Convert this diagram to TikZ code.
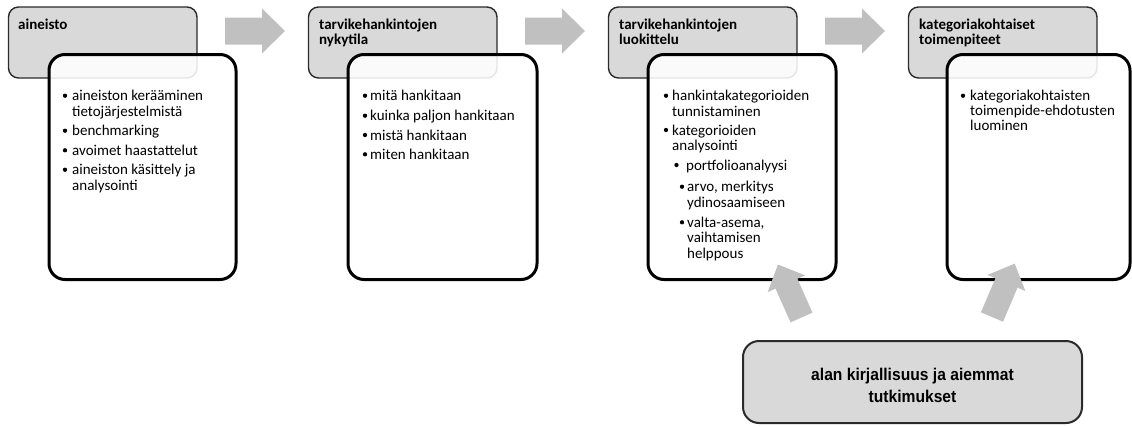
\documentclass[tikz,border=0pt]{standalone}
\usepackage{fontspec}
\setmainfont{Carlito}
\newfontfamily\litfont{Liberation Sans}[FakeStretch=0.92]
\definecolor{titlegray}{HTML}{D9D9D9}
\definecolor{arrowgray}{HTML}{C0C0C0}
\definecolor{edgegray}{HTML}{2A2A2A}
% lines of a text block, aligned on the baseline of the first line
\newcommand\linesL[1]{\begin{tabular}[t]{@{}l@{}}#1\end{tabular}}
\newcommand\linesC[1]{\begin{tabular}[t]{@{}c@{}}#1\end{tabular}}
\begin{document}
\begin{tikzpicture}[x=1pt,y=-1pt,
  titlebox/.style={draw=edgegray, line width=1.4pt, fill=titlegray, rounded corners=10pt,
    anchor=north west, outer sep=0pt, inner sep=0pt},
  listbox/.style={draw=black, line width=3pt, fill=white, fill opacity=0.88, rounded corners=16pt,
    anchor=north west, outer sep=0pt, inner sep=0pt},
  sourcebox/.style={draw=edgegray, line width=2pt, fill=titlegray, rounded corners=16pt,
    anchor=north west, outer sep=0pt, inner sep=0pt},
  titletext/.style={anchor=base west, inner sep=0pt,
    font=\fontsize{15}{15}\selectfont\bfseries},
  itemtext/.style={anchor=base west, inner sep=0pt,
    font=\fontsize{15}{15.5}\selectfont},
  dot/.style={circle, fill=black, inner sep=0pt, minimum size=4.3pt},
  pics/flowarrow/.style={code={
    \fill[arrowgray] (0,-13.5) -- (37,-13.5) -- (37,-22.5) -- (60,0)
      -- (37,22.5) -- (37,13.5) -- (0,13.5) -- cycle;}},
  pics/liftarrow/.style={code={
    \fill[arrowgray] (0,-12) -- (37,-12) -- (37,-20.5) -- (58,0)
      -- (37,20.5) -- (37,12) -- (0,12) -- cycle;}},
]
\useasboundingbox (0,0) rectangle (1132,426);
\clip (0,0) rectangle (1132,426);

% title boxes
\node[titlebox, minimum width=188.5, minimum height=71] (g1) at (8.5,7) {};
\node[titlebox, minimum width=188.5, minimum height=71] (g2) at (308.5,7) {};
\node[titlebox, minimum width=188.5, minimum height=71] (g3) at (608.5,7) {};
\node[titlebox, minimum width=188.5, minimum height=71] (g4) at (908.5,7) {};

% list boxes
\node[listbox, minimum width=187, minimum height=225] (w1) at (49,54.5) {};
\node[listbox, minimum width=189, minimum height=225] (w2) at (348,54.5) {};
\node[listbox, minimum width=188, minimum height=225] (w3) at (648,54.5) {};
\node[listbox, minimum width=183, minimum height=225] (w4) at (947,54.5) {};

% titles
\node[titletext] (h1) at (18,29) {aineisto};
\node[titletext] (h2) at (319,29) {\linesL{tarvikehankintojen\\nykytila}};
\node[titletext] (h3) at (619,29) {\linesL{tarvikehankintojen\\luokittelu}};
\node[titletext] (h4) at (919,29) {\linesL{kategoriakohtaiset\\toimenpiteet}};

% stage 1 items
\node[dot] (b11) at (65,95.7) {};
\node[itemtext] (i11) at (72,100.7) {\linesL{aineiston kerääminen\\tietojärjestelmistä}};
\node[dot] (b12) at (65,130.7) {};
\node[itemtext] (i12) at (72,135.7) {benchmarking};
\node[dot] (b13) at (65,150.3) {};
\node[itemtext] (i13) at (72,155.3) {avoimet haastattelut};
\node[dot] (b14) at (65,169.7) {};
\node[itemtext] (i14) at (72,174.7) {\linesL{aineiston käsittely ja\\analysointi}};

% stage 2 items
\node[dot] (b21) at (365,95.7) {};
\node[itemtext] (i21) at (370,100.7) {mitä hankitaan};
\node[dot] (b22) at (365,115.7) {};
\node[itemtext] (i22) at (370,120.7) {kuinka paljon hankitaan};
\node[dot] (b23) at (365,135) {};
\node[itemtext] (i23) at (370,140) {mistä hankitaan};
\node[dot] (b24) at (365,154.3) {};
\node[itemtext] (i24) at (370,159.3) {miten hankitaan};

% stage 3 items
\node[dot] (b31) at (666,95.7) {};
\node[itemtext] (i31) at (672,100.7) {\linesL{hankintakategorioiden\\tunnistaminen}};
\node[dot] (b32) at (666,130) {};
\node[itemtext] (i32) at (672,135) {\linesL{kategorioiden\\analysointi}};
\node[dot] (b33) at (676.5,165) {};
\node[itemtext] (i33) at (686,170) {portfolioanalyysi};
\node[dot] (b34) at (682,186.7) {};
\node[itemtext] (i34) at (687,191.7) {\linesL{arvo, merkitys\\ydinosaamiseen}};
\node[dot] (b35) at (682,222.3) {};
\node[itemtext] (i35) at (687,227.3) {\linesL{valta-asema,\\vaihtamisen\\helppous}};

% stage 4 items
\node[dot] (b41) at (963,95.7) {};
\node[itemtext, font=\fontsize{15}{15}\selectfont] (i41) at (970,100.7)
  {\linesL{kategoriakohtaisten\\toimenpide-ehdotusten\\luominen}};

% flow arrows between stages
\coordinate (a1) at (225,31);
\coordinate (a2) at (525,31);
\coordinate (a3) at (825,31);
\pic at (a1) {flowarrow};
\pic at (a2) {flowarrow};
\pic at (a3) {flowarrow};

% literature box
\node[sourcebox, minimum width=339, minimum height=82] (lit) at (743,341) {};
\node[anchor=base, inner sep=0pt,
  font=\litfont\bfseries\fontsize{17}{22}\selectfont] (littext) at (912.5,380)
  {\linesC{alan kirjallisuus ja aiemmat\\tutkimukset}};

% arrows from the literature box up to stages 3 and 4
\coordinate (u1) at (801.5,317.5);
\coordinate (u2) at (992,317);
\pic[rotate=114] at (u1) {liftarrow};
\pic[rotate=67] at (u2) {liftarrow};
\end{tikzpicture}
\end{document}
